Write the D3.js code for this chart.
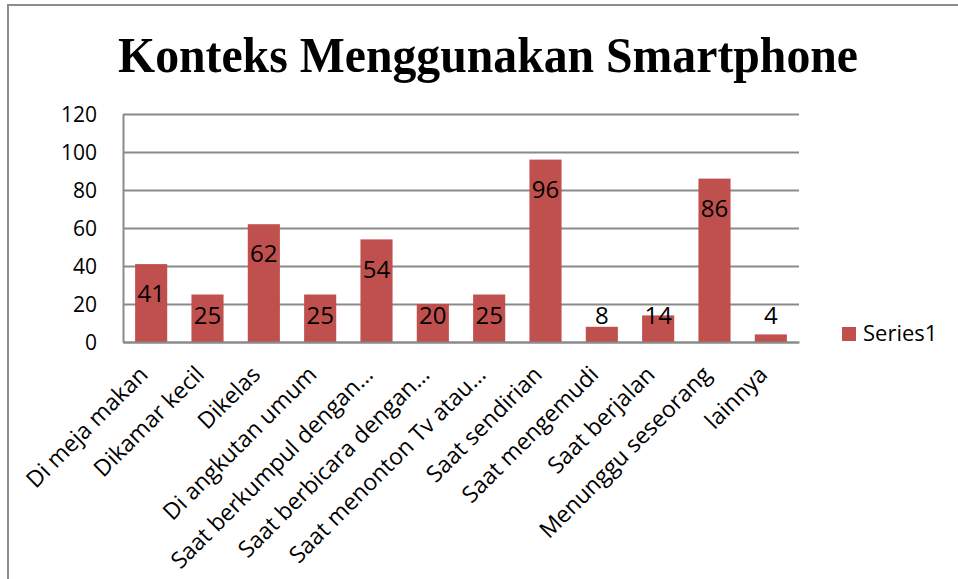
<!DOCTYPE html>
<html>
<head>
<meta charset="utf-8">
<script src="https://cdn.jsdelivr.net/npm/d3@7"></script>
<style>
  body { margin: 0; background: #fff; }
  svg { display: block; }
  .axis text { font-family: "Open Sans", sans-serif; fill: #000; }
  .axis path, .axis line { stroke: #8a8a8a; }
</style>
</head>
<body>
<svg width="958" height="579"></svg>
<script>
(function() {

	var categories = ["Di meja makan", "Dikamar kecil", "Dikelas", "Di angkutan umum",
		"Saat berkumpul dengan\u2026", "Saat berbicara dengan\u2026", "Saat menonton Tv atau\u2026",
		"Saat sendirian", "Saat mengemudi", "Saat berjalan", "Menunggu seseorang", "lainnya"]
	var series1 = [41, 25, 62, 25, 54, 20, 25, 96, 8, 14, 86, 4]
	var yTicks = [0, 20, 40, 60, 80, 100, 120]
	var seriesName = "Series1"
	var title = "Konteks Menggunakan Smartphone"

	var svg = d3.select('svg')
	var margin = { top: 114, left: 123, right: 159, bottom: 237 }
	var chartWidth = 958 - margin.left - margin.right
	var chartHeight = 579 - margin.top - margin.bottom
	var barColor = '#C0504D'

	// chart border (runs off the right and bottom edge)
	svg.append('rect')
		.attr('x', 8).attr('y', 5)
		.attr('width', 1000).attr('height', 1000)
		.attr('fill', 'none')
		.attr('stroke', '#8c8c8c')
		.attr('stroke-width', 2)

	svg.append('text')
		.attr('x', 488).attr('y', 72)
		.attr('text-anchor', 'middle')
		.attr('font-family', '"Liberation Serif", "Times New Roman", serif')
		.attr('font-weight', 'bold')
		.attr('font-size', 51)
		.attr('textLength', 740)
		.attr('lengthAdjust', 'spacingAndGlyphs')
		.text(title)

	var g = svg.append('g')
		.attr('transform', 'translate(' + margin.left + ',' + margin.top + ')')

	var x = d3.scaleBand()
		.domain(categories)
		.range([0, chartWidth])
		.paddingInner(0.43)
		.paddingOuter(0.215)

	var y = d3.scaleLinear()
		.domain([0, 120])
		.range([chartHeight, 0])

	// gridlines
	g.append('g')
		.attr('class', 'axis grid')
		.call(d3.axisLeft(y).tickValues(yTicks).tickSize(-chartWidth).tickFormat(''))
		.call(function(s) {
			s.select('.domain').remove()
			s.selectAll('line').attr('stroke-width', 2)
		})

	g.append('g')
		.attr('class', 'axis axis--y')
		.call(d3.axisLeft(y).tickValues(yTicks).tickSize(0).tickPadding(26))
		.call(function(s) {
			s.select('.domain').attr('stroke-width', 2)
			s.selectAll('text').attr('font-size', 21).attr('dy', '0.36em')
		})

	g.selectAll('.bar')
		.data(series1)
		.enter()
		.append('rect')
		.attr('class', 'bar')
		.attr('x', function(d, i) { return x(categories[i]) })
		.attr('y', function(d) { return y(d) })
		.attr('width', x.bandwidth())
		.attr('height', function(d) { return chartHeight - y(d) })
		.attr('fill', barColor)

	// x axis line on top of bars
	g.append('g')
		.attr('class', 'axis axis--x')
		.attr('transform', 'translate(0,' + chartHeight + ')')
		.call(d3.axisBottom(x).tickSize(0).tickFormat(''))
		.call(function(s) { s.select('.domain').attr('stroke-width', 2) })

	g.selectAll('.cat-label')
		.data(categories)
		.enter()
		.append('text')
		.attr('class', 'cat-label')
		.attr('transform', function(d) {
			return 'translate(' + (x(d) + x.bandwidth() / 2 - 2) + ',' + (chartHeight + 34) + ') rotate(-45)'
		})
		.attr('text-anchor', 'end')
		.attr('font-family', '"Open Sans", sans-serif')
		.attr('font-size', 23)
		.text(function(d) { return d })

	g.selectAll('.value-label')
		.data(series1)
		.enter()
		.append('text')
		.attr('class', 'value-label')
		.attr('x', function(d, i) { return x(categories[i]) + x.bandwidth() / 2 })
		.attr('y', function(d) { return Math.min(y(d) + 29.5, chartHeight - 26.5) })
		.attr('dy', '0.36em')
		.attr('text-anchor', 'middle')
		.attr('font-family', '"Open Sans", sans-serif')
		.attr('font-size', 24)
		.text(function(d) { return d })

	var legend = svg.append('g').attr('transform', 'translate(842,327)')
	legend.append('rect')
		.attr('width', 14).attr('height', 14)
		.attr('fill', barColor)
	legend.append('text')
		.attr('x', 21).attr('y', 14)
		.attr('font-family', '"Open Sans", sans-serif')
		.attr('font-size', 22)
		.text(seriesName)

})()
</script>
</body>
</html>
